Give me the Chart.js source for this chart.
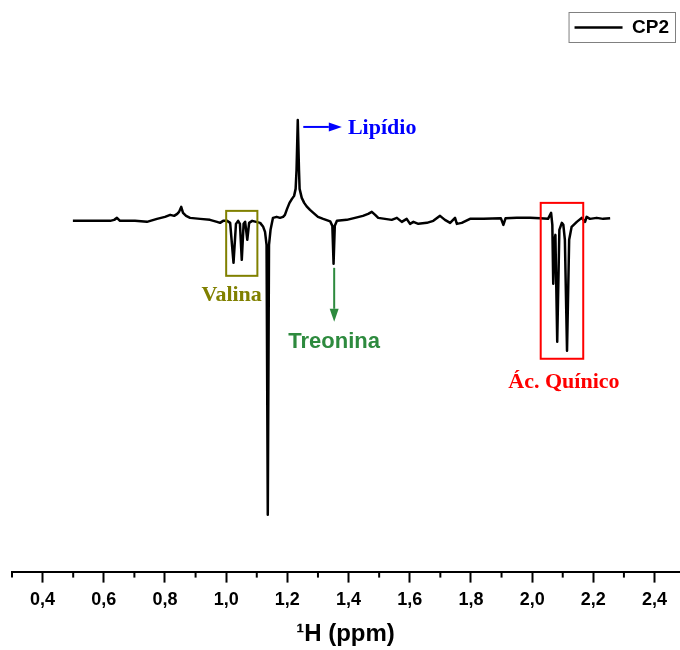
<!DOCTYPE html>
<html lang="pt">
<head>
<meta charset="UTF-8">
<title>Espectro CP2</title>
<script src="https://cdn.jsdelivr.net/npm/chart.js"></script>
<style>
    html, body { margin: 0; padding: 0; background: #fff; }
    #wrap { width: 680px; height: 650px; }
</style>
</head>
<body>
<div id="wrap"><canvas id="espectro"></canvas></div>
<script>
const ppm = [
    0.499, 0.555, 0.621, 0.634, 0.643, 0.653, 0.702, 0.741, 0.774, 0.800,
    0.817, 0.830, 0.840, 0.846, 0.853, 0.859, 0.869, 0.882, 0.915, 0.947,
    0.970, 0.980, 0.990, 1.003, 1.013, 1.024, 1.032, 1.039, 1.045, 1.051,
    1.057, 1.062, 1.069, 1.075, 1.085, 1.098, 1.111, 1.121, 1.127, 1.132,
    1.136, 1.140, 1.145, 1.153, 1.165, 1.176, 1.186, 1.192, 1.199, 1.207,
    1.215, 1.222, 1.227, 1.230, 1.234, 1.238, 1.240, 1.247, 1.255, 1.263,
    1.274, 1.285, 1.300, 1.317, 1.340, 1.347, 1.351, 1.355, 1.362, 1.394,
    1.421, 1.447, 1.464, 1.476, 1.487, 1.497, 1.519, 1.541, 1.558, 1.574,
    1.590, 1.601, 1.612, 1.628, 1.656, 1.677, 1.699, 1.715, 1.732, 1.748,
    1.754, 1.770, 1.797, 1.841, 1.898, 1.906, 1.913, 1.950, 1.993, 2.026,
    2.052, 2.062, 2.066, 2.069, 2.073, 2.076, 2.082, 2.089, 2.097, 2.102,
    2.107, 2.114, 2.121, 2.129, 2.146, 2.162, 2.173, 2.178, 2.189, 2.211,
    2.232, 2.255
];
const intensidade = [
    -1, -1, -1, 0, 2, -1, -1, -2, 1, 3,
    5, 4, 6, 8, 13, 7, 4, 2, 1, 0,
    -2, -3, -1, -1, -3, -43, -4, -1, -4, -40,
    -4, -2, -20, -3, -1, -2, -3, -7, -12, -25,
    -295, -25, -10, 2, 3, 2, 3, 5, 11, 17,
    21, 24, 31, 50, 100, 50, 31, 22, 17, 13.5,
    10, 7, 3, 1, -1.5, -6, -44, -6, -1, 0,
    2, 4, 6, 8, 5, 2, 1, 0, 2, -2,
    1, -4, -2, -4, -3, -1, 4, 0, -3, 2,
    -4, -3, 1, 1, 1.5, -5, 1.5, 2, 2, 1.5,
    1, 7, -5, -64, -20, -15, -122, -10, -3, -5,
    -20, -131, -20, -7, -2, 2, -2, 3, 1, 2,
    1, 1.5
];

const ticksMaiores = [0.4, 0.6, 0.8, 1.0, 1.2, 1.4, 1.6, 1.8, 2.0, 2.2, 2.4];
const rotulosTicks = ['0,4', '0,6', '0,8', '1,0', '1,2', '1,4', '1,6', '1,8', '2,0', '2,2', '2,4'];
const ticksMenores = [0.3, 0.5, 0.7, 0.9, 1.1, 1.3, 1.5, 1.7, 1.9, 2.1, 2.3];

// anotações em coordenadas do gráfico (ppm, intensidade)
const caixas = [
    { x0: 1.000, x1: 1.102, y0: 9, y1: -56, cor: '#808000' },
    { x0: 2.028, x1: 2.167, y0: 17, y1: -139, cor: '#ff0000' }
];
const setas = [
    { x0: 1.252, y0: 93, x1: 1.378, y1: 93, cor: '#0000ff' },
    { x0: 1.353, y0: -48, x1: 1.353, y1: -102, cor: '#2d8a3e' }
];
const rotulos = [
    { texto: 'Lipídio', x: 1.398, y: 92, cor: '#0000ff', fonte: 'bold 22px "Liberation Serif", "Times New Roman", serif', alinhar: 'left' },
    { texto: 'Valina', x: 1.018, y: -76, cor: '#808000', fonte: 'bold 22px "Liberation Serif", "Times New Roman", serif', alinhar: 'center' },
    { texto: 'Treonina', x: 1.353, y: -122, cor: '#2d8a3e', fonte: 'bold 22px "Liberation Sans", Arial, sans-serif', alinhar: 'center' },
    { texto: 'Ác. Quínico', x: 2.104, y: -163, cor: '#ff0000', fonte: 'bold 22px "Liberation Serif", "Times New Roman", serif', alinhar: 'center' }
];

const ehMaior = v => ticksMaiores.some(t => Math.abs(t - v) < 1e-6);

const anotacoesPlugin = {
    id: 'anotacoes',
    afterDraw(chart) {
        const ctx = chart.ctx;
        const sx = chart.scales.x, sy = chart.scales.y;
        ctx.save();

        // ticks menores do eixo x
        ctx.strokeStyle = '#000';
        ctx.lineWidth = 2;
        ticksMenores.forEach(v => {
            const px = sx.getPixelForValue(v);
            ctx.beginPath();
            ctx.moveTo(px, sx.top);
            ctx.lineTo(px, sx.top + 6);
            ctx.stroke();
        });

        // caixas
        caixas.forEach(c => {
            const xa = sx.getPixelForValue(c.x0), xb = sx.getPixelForValue(c.x1);
            const ya = sy.getPixelForValue(c.y0), yb = sy.getPixelForValue(c.y1);
            ctx.strokeStyle = c.cor;
            ctx.lineWidth = 2;
            ctx.strokeRect(xa, ya, xb - xa, yb - ya);
        });

        // setas
        setas.forEach(s => {
            const xa = sx.getPixelForValue(s.x0), ya = sy.getPixelForValue(s.y0);
            const xb = sx.getPixelForValue(s.x1), yb = sy.getPixelForValue(s.y1);
            const ang = Math.atan2(yb - ya, xb - xa);
            const comp = 13, meia = 4.5;
            ctx.strokeStyle = s.cor;
            ctx.fillStyle = s.cor;
            ctx.lineWidth = 2;
            ctx.beginPath();
            ctx.moveTo(xa, ya);
            ctx.lineTo(xb - comp * Math.cos(ang), yb - comp * Math.sin(ang));
            ctx.stroke();
            ctx.beginPath();
            ctx.moveTo(xb, yb);
            ctx.lineTo(xb - comp * Math.cos(ang) + meia * Math.sin(ang), yb - comp * Math.sin(ang) - meia * Math.cos(ang));
            ctx.lineTo(xb - comp * Math.cos(ang) - meia * Math.sin(ang), yb - comp * Math.sin(ang) + meia * Math.cos(ang));
            ctx.closePath();
            ctx.fill();
        });

        // textos
        ctx.textBaseline = 'middle';
        rotulos.forEach(r => {
            ctx.font = r.fonte;
            ctx.fillStyle = r.cor;
            ctx.textAlign = r.alinhar;
            ctx.fillText(r.texto, sx.getPixelForValue(r.x), sy.getPixelForValue(r.y));
        });

        // moldura da legenda
        const hb = chart.legend && chart.legend.legendHitBoxes && chart.legend.legendHitBoxes[0];
        if (hb) {
            ctx.strokeStyle = '#808080';
            ctx.lineWidth = 1;
            ctx.strokeRect(hb.left - 5.5, hb.top - 5.5, hb.width + 12, hb.height + 11);
        }
        ctx.restore();
    }
};

const ctx = document.getElementById('espectro').getContext('2d');
new Chart(ctx, {
    type: 'line',
    data: {
        datasets: [{
            label: 'CP2',
            data: ppm.map((x, i) => ({ x: x, y: intensidade[i] })),
            borderColor: '#000',
            backgroundColor: '#000',
            borderWidth: 2.5,
            borderJoinStyle: 'round',
            pointRadius: 0,
            tension: 0,
            fill: false
        }]
    },
    options: {
        responsive: true,
        maintainAspectRatio: false,
        animation: false,
        devicePixelRatio: 1,
        layout: { padding: { top: 8, left: 12, right: 1, bottom: 0 } },
        plugins: {
            legend: {
                position: 'top',
                align: 'end',
                labels: {
                    usePointStyle: true,
                    pointStyle: 'line',
                    pointStyleWidth: 48,
                    boxHeight: 19,
                    padding: 10,
                    color: '#000',
                    font: { family: '"Liberation Sans", Arial, sans-serif', size: 19, weight: 'bold' }
                }
            },
            tooltip: { enabled: false }
        },
        scales: {
            x: {
                type: 'linear',
                min: 0.3,
                max: 2.48,
                afterBuildTicks: s => {
                    s.ticks = ticksMenores.concat(ticksMaiores).sort((a, b) => a - b).map(v => ({ value: v }));
                },
                ticks: {
                    autoSkip: false,
                    maxRotation: 0,
                    padding: 7,
                    color: '#000',
                    font: { family: '"Liberation Sans", Arial, sans-serif', size: 18, weight: 'bold' },
                    callback: v => {
                        const i = ticksMaiores.findIndex(t => Math.abs(t - v) < 1e-6);
                        return i < 0 ? '' : rotulosTicks[i];
                    }
                },
                grid: {
                    drawOnChartArea: false,
                    drawTicks: true,
                    tickLength: 11,
                    tickWidth: 2,
                    tickColor: c => (c.tick && ehMaior(c.tick.value)) ? '#000' : 'rgba(0,0,0,0)'
                },
                border: { display: true, color: '#000', width: 2 },
                title: {
                    display: true,
                    text: '¹H (ppm)',
                    color: '#000',
                    font: { family: '"Liberation Sans", Arial, sans-serif', size: 24, weight: 'bold' },
                    padding: { top: 2, bottom: 1 }
                }
            },
            y: {
                display: false,
                min: -352,
                max: 173
            }
        }
    },
    plugins: [anotacoesPlugin]
});
</script>
</body>
</html>
